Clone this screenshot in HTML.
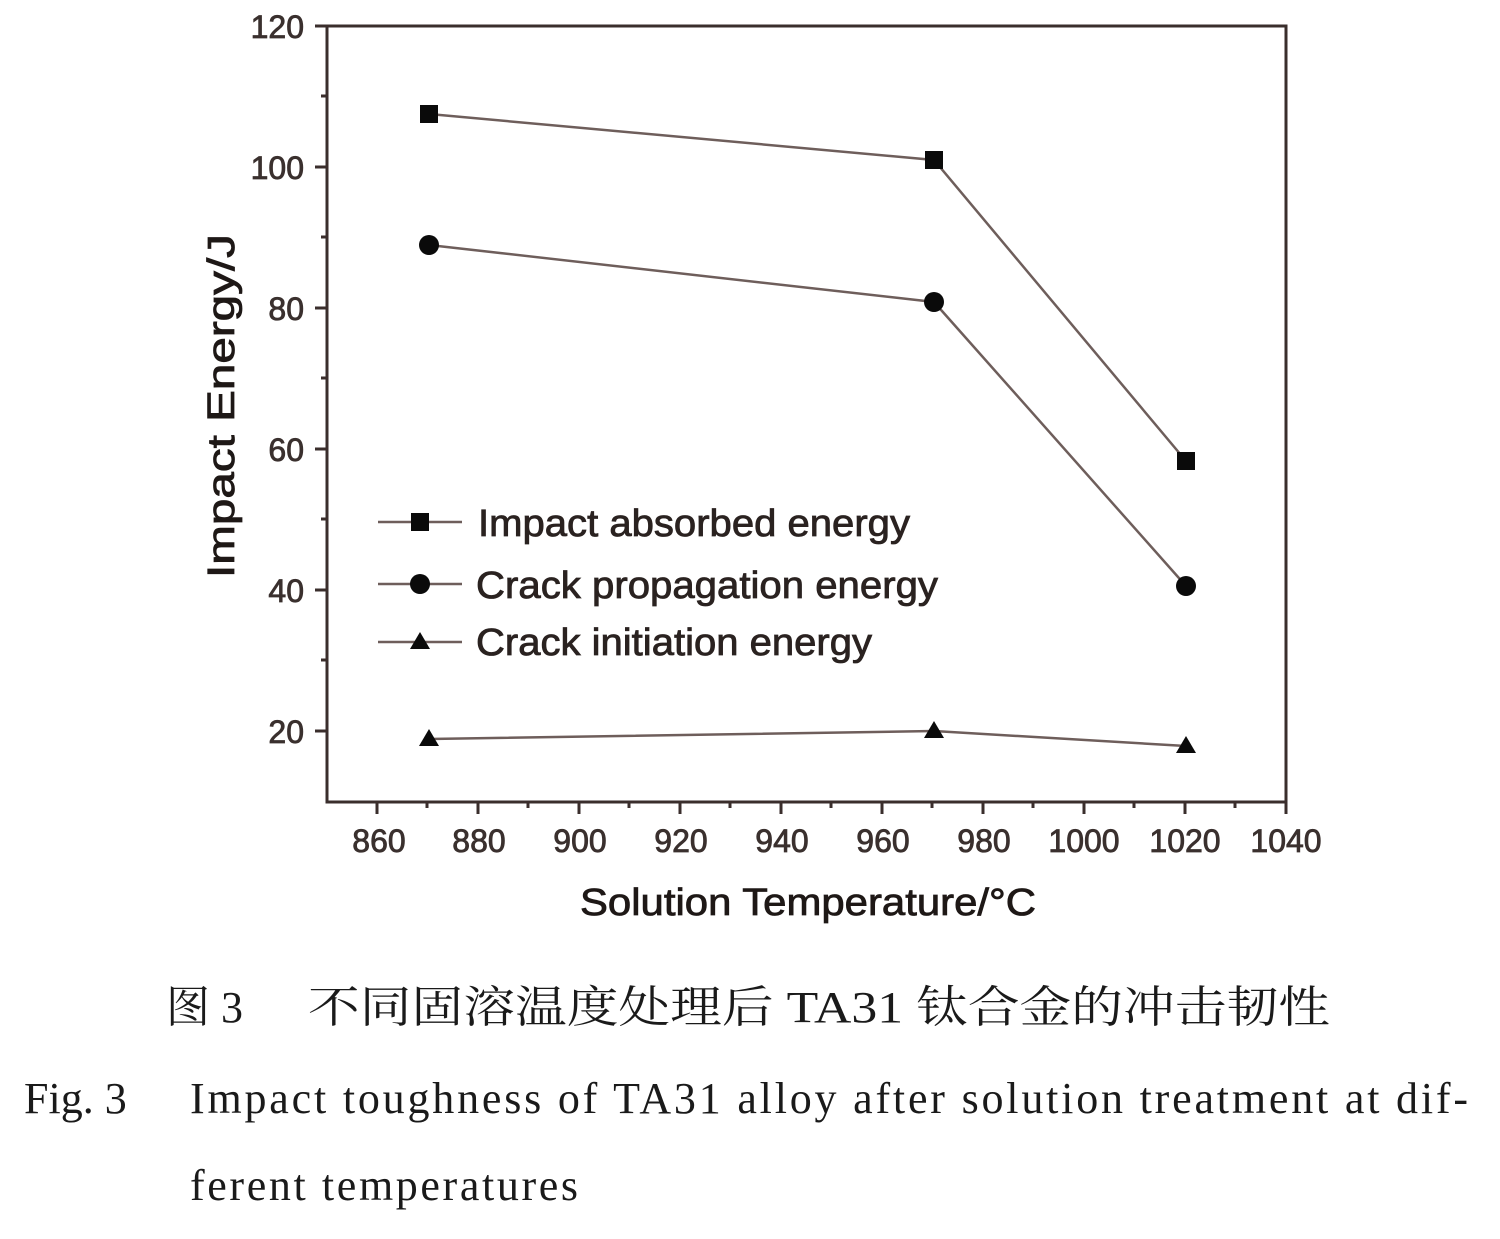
<!DOCTYPE html>
<html><head><meta charset="utf-8"><style>
html,body{margin:0;padding:0;background:#fff;}
svg{display:block;}
</style></head><body>
<svg width="1500" height="1239" viewBox="0 0 1500 1239" xmlns="http://www.w3.org/2000/svg">
<rect width="1500" height="1239" fill="#fff"/>
<rect x="327" y="26" width="959" height="776" fill="none" stroke="#3a2e2c" stroke-width="3"/>
<g stroke="#3a2e2c" stroke-width="3">
<line x1="377" y1="802" x2="377" y2="814"/><line x1="478" y1="802" x2="478" y2="814"/>
<line x1="579" y1="802" x2="579" y2="814"/><line x1="680" y1="802" x2="680" y2="814"/>
<line x1="781" y1="802" x2="781" y2="814"/><line x1="882" y1="802" x2="882" y2="814"/>
<line x1="983" y1="802" x2="983" y2="814"/><line x1="1084" y1="802" x2="1084" y2="814"/>
<line x1="1185" y1="802" x2="1185" y2="814"/><line x1="1286" y1="802" x2="1286" y2="814"/>
<line x1="427" y1="802" x2="427" y2="808"/><line x1="528" y1="802" x2="528" y2="808"/>
<line x1="629" y1="802" x2="629" y2="808"/><line x1="730" y1="802" x2="730" y2="808"/>
<line x1="831" y1="802" x2="831" y2="808"/><line x1="932" y1="802" x2="932" y2="808"/>
<line x1="1033" y1="802" x2="1033" y2="808"/><line x1="1134" y1="802" x2="1134" y2="808"/>
<line x1="1235" y1="802" x2="1235" y2="808"/>
<line x1="315" y1="26" x2="327" y2="26"/><line x1="315" y1="167" x2="327" y2="167"/>
<line x1="315" y1="308" x2="327" y2="308"/><line x1="315" y1="449" x2="327" y2="449"/>
<line x1="315" y1="590" x2="327" y2="590"/><line x1="315" y1="731" x2="327" y2="731"/>
<line x1="321" y1="96" x2="327" y2="96"/><line x1="321" y1="237" x2="327" y2="237"/>
<line x1="321" y1="378" x2="327" y2="378"/><line x1="321" y1="519" x2="327" y2="519"/>
<line x1="321" y1="660" x2="327" y2="660"/>
</g>
<g font-family="Liberation Sans, sans-serif" font-size="32" fill="#3a302e" stroke="#3a302e" stroke-width="0.8">
<g text-anchor="end">
<text x="304" y="38">120</text><text x="304" y="179">100</text><text x="304" y="320">80</text>
<text x="304" y="461">60</text><text x="304" y="602">40</text><text x="304" y="743">20</text>
</g>
<g text-anchor="middle">
<text x="379" y="852">860</text><text x="479" y="852">880</text><text x="580" y="852">900</text>
<text x="681" y="852">920</text><text x="782" y="852">940</text><text x="883" y="852">960</text>
<text x="984" y="852">980</text><text x="1084" y="852">1000</text><text x="1185" y="852">1020</text>
<text x="1286" y="852">1040</text>
</g>
</g>
<text x="580" y="915" font-family="Liberation Sans, sans-serif" font-size="38" fill="#1e1816" stroke="#1e1816" stroke-width="0.8" textLength="456" lengthAdjust="spacingAndGlyphs">Solution Temperature/°C</text>
<text transform="translate(234,578) rotate(-90)" font-family="Liberation Sans, sans-serif" font-size="38" fill="#1e1816" stroke="#1e1816" stroke-width="0.8" textLength="344" lengthAdjust="spacingAndGlyphs">Impact Energy/J</text>
<g stroke="#6e5e5b" stroke-width="2.5" fill="none">
<polyline points="429,114 934,160 1186,461"/>
<polyline points="429,245 934,302 1186,586"/>
<polyline points="429,739 934,731 1186,746"/>
<line x1="378" y1="522" x2="462" y2="522"/>
<line x1="378" y1="584" x2="462" y2="584"/>
<line x1="378" y1="642" x2="462" y2="642"/>
</g>
<g fill="#0a0a0a">
<rect x="420" y="105" width="18" height="18"/><rect x="925" y="151" width="18" height="18"/><rect x="1177" y="452" width="18" height="18"/>
<circle cx="429" cy="245" r="10"/><circle cx="934" cy="302" r="10"/><circle cx="1186" cy="586" r="10"/>
<polygon points="429,729 439,746 419,746"/><polygon points="934,721 944,738 924,738"/><polygon points="1186,736 1196,753 1176,753"/>
<rect x="411" y="513" width="18" height="18"/>
<circle cx="420" cy="584" r="10"/>
<polygon points="420,632 430,649 410,649"/>
</g>
<g font-family="Liberation Sans, sans-serif" font-size="38" fill="#2a2220" stroke="#2a2220" stroke-width="0.8" lengthAdjust="spacingAndGlyphs">
<text x="478" y="536" textLength="432" lengthAdjust="spacingAndGlyphs">Impact absorbed energy</text>
<text x="476" y="598" textLength="462" lengthAdjust="spacingAndGlyphs">Crack propagation energy</text>
<text x="476" y="655" textLength="396" lengthAdjust="spacingAndGlyphs">Crack initiation energy</text>
</g>
<text x="166" y="1022" font-family="Liberation Serif, 'Noto Serif CJK SC', serif" font-size="44" fill="#1a1a1a">图 3</text>
<text x="308" y="1022" font-family="Liberation Serif, 'Noto Serif CJK SC', serif" font-size="44" fill="#1a1a1a" textLength="1022" lengthAdjust="spacingAndGlyphs">不同固溶温度处理后 TA31 钛合金的冲击韧性</text>
<text x="24" y="1113" font-family="Liberation Serif, serif" font-size="44" fill="#1a1a1a">Fig. 3</text>
<text x="190" y="1113" font-family="Liberation Serif, serif" font-size="44" fill="#1a1a1a" textLength="1278" lengthAdjust="spacing">Impact toughness of TA31 alloy after solution treatment at dif-</text>
<text x="190" y="1200" font-family="Liberation Serif, serif" font-size="44" fill="#1a1a1a" textLength="388" lengthAdjust="spacing">ferent temperatures</text>
</svg>
</body></html>
